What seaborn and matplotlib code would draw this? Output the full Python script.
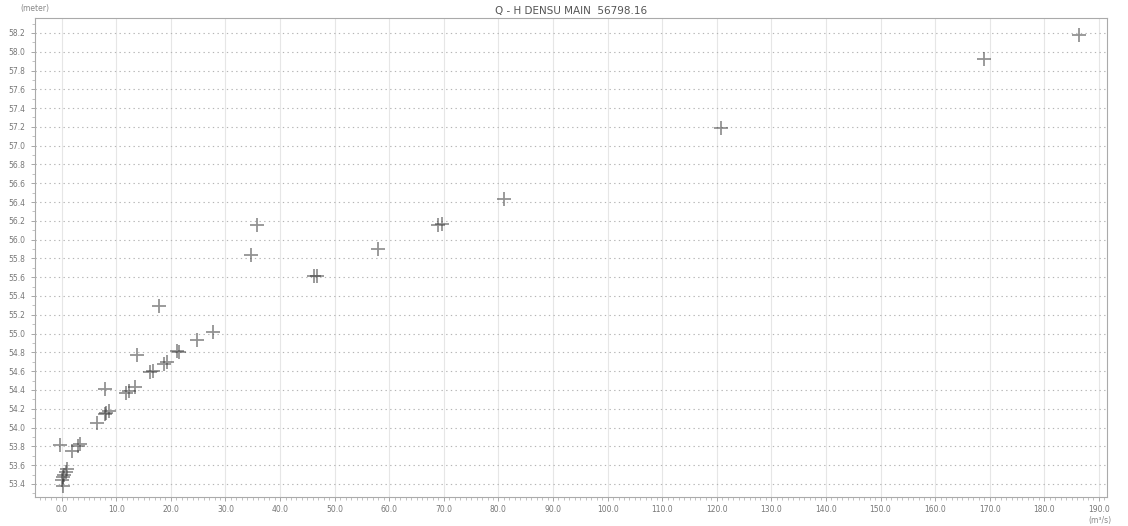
import seaborn as sns
import matplotlib.pyplot as plt
import numpy as np
import pandas as pd
from matplotlib.ticker import MultipleLocator, FormatStrFormatter

# discharge (m3/s) and water level (meter)
discharge = [186.4, 169.0, 120.8, 81.1, 68.9, 69.6, 57.9, 46.8, 46.3,
             35.7, 34.7, 17.9, 27.7, 24.7, 21.5, 21.2, 13.7, 19.2, 18.7,
             16.7, 16.2, 7.9, 13.4, 11.8, 12.3, 8.2, 8.6, 7.9, 6.4,
             3.3, 2.9, -0.4, 1.8, 0.7, 1.0, 0.3, 0.0, 0.2, 0.5]
level = [58.18, 57.92, 57.19, 56.43, 56.16, 56.17, 55.90, 55.61, 55.61,
         56.16, 55.84, 55.29, 55.02, 54.93, 54.80, 54.81, 54.77, 54.70, 54.68,
         54.60, 54.59, 54.41, 54.43, 54.37, 54.39, 54.16, 54.18, 54.14, 54.05,
         53.82, 53.80, 53.81, 53.75, 53.53, 53.56, 53.47, 53.44, 53.38, 53.50]

title = "Q - H DENSU MAIN  56798.16"
y_unit = "(meter)"
x_unit = "(m\u00b3/s)"

df = pd.DataFrame({"Q": discharge, "H": level})

sns.set_style("white")
fig = plt.figure(figsize=(11.28, 5.26), dpi=100)
ax = fig.add_axes([0.031, 0.055, 0.950, 0.911])

sns.scatterplot(data=df, x="Q", y="H", marker="+", s=110, color="#3a3a3a",
                alpha=0.55, linewidth=1.3, ax=ax)

ax.set_xlim(-4.9, 191.4)
ax.set_ylim(53.26, 58.36)

ax.xaxis.set_major_locator(MultipleLocator(10))
ax.xaxis.set_minor_locator(MultipleLocator(1))
ax.yaxis.set_major_locator(MultipleLocator(0.2))
ax.yaxis.set_minor_locator(MultipleLocator(0.1))
ax.xaxis.set_major_formatter(FormatStrFormatter("%.1f"))
ax.yaxis.set_major_formatter(FormatStrFormatter("%.1f"))

ax.grid(axis="y", which="major", color="#b5b5b5", linestyle=(0, (1.2, 3)), linewidth=0.8)
ax.grid(axis="x", which="major", color="#e6e6e6", linestyle="-", linewidth=0.8)

ax.tick_params(axis="both", which="both", bottom=True, left=True)
ax.tick_params(axis="both", which="major", direction="out", length=3, width=0.6,
               color="#999999", labelsize=5.5, labelcolor="#777777", pad=4)
ax.tick_params(axis="x", which="major", pad=3)
ax.tick_params(axis="both", which="minor", direction="out", length=2, width=0.5,
               color="#aaaaaa")

for side in ["left", "bottom", "top", "right"]:
    ax.spines[side].set_color("#aaaaaa")
    ax.spines[side].set_linewidth(0.8)

ax.set_xlabel("")
ax.set_ylabel("")
ax.set_title(title, fontsize=7.5, color="#555555", pad=3)
fig.text(0.018, 0.992, y_unit, fontsize=5.5, color="#888888", ha="left", va="top")
fig.text(0.975, 0.001, x_unit, fontsize=5.5, color="#888888", ha="center", va="bottom")

plt.savefig("out.png", dpi=100)
